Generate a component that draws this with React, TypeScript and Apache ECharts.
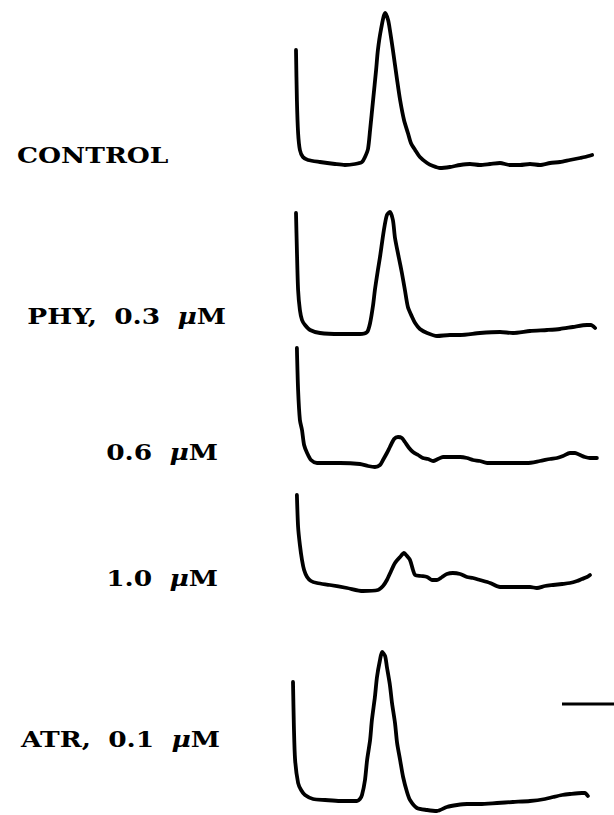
import React, { useEffect, useRef } from "react";
import * as echarts from "echarts";

// Trace labels (top to bottom)
const traceLabels: string[] = ["CONTROL", "PHY, 0.3 μM", "0.6 μM", "1.0 μM", "ATR, 0.1 μM"];

// Time (arbitrary units) / response (arbitrary units, baseline = 0)
const control: [number, number][] = [
  [1.0, 113], [1.3, 63], [1.7, 30], [2.3, 13], [3.3, 6], [5.0, 3], [9.0, 1], [14.0, -1], [17.3, -2],
  [20.7, -1], [23.0, 1], [24.0, 6], [25.0, 14], [25.7, 33], [26.7, 63], [27.7, 93], [28.3, 113],
  [29.3, 133], [30.7, 150], [31.7, 143], [32.3, 133], [33.3, 113], [34.7, 83], [35.7, 63], [37.0, 43],
  [38.3, 30], [39.3, 20], [40.7, 13], [42.3, 6], [44.7, 0], [46.7, -3], [49.0, -5], [52.3, -4],
  [55.7, -2], [59.0, -1], [62.3, -2], [65.7, -1], [69.0, 0], [72.3, -2], [75.7, -2], [79.0, -1],
  [82.3, -2], [85.7, 0], [89.0, 1], [92.3, 3], [95.7, 5], [97.3, 6], [99.7, 8],
];

const phy03: [number, number][] = [
  [1.0, 120], [1.3, 83], [1.7, 43], [2.3, 23], [3.0, 13], [4.0, 8], [5.7, 3], [9.0, 0], [15.7, -1],
  [22.3, -1], [24.7, 1], [25.7, 10], [26.7, 28], [27.3, 43], [28.3, 63], [29.0, 76], [30.3, 103],
  [31.3, 118], [32.3, 121], [33.3, 113], [34.0, 95], [35.3, 75], [36.3, 60], [37.3, 43], [38.3, 26],
  [39.7, 16], [40.7, 10], [42.3, 4], [44.7, 0], [48.0, -3], [52.3, -2], [55.7, -2], [62.3, 0],
  [69.0, 1], [73.3, 0], [79.0, 2], [84.7, 3], [89.0, 4], [93.3, 6], [98.0, 8], [99.3, 8], [100.7, 5],
];

const phy06: [number, number][] = [
  [1.3, 115], [1.7, 73], [2.3, 43], [3.0, 33], [3.7, 18], [4.7, 10], [6.0, 3], [8.0, 0], [15.7, 0],
  [22.3, -1], [25.0, -3], [27.3, -4], [29.0, -2], [30.0, 3], [31.3, 10], [32.3, 16], [33.7, 24],
  [35.0, 26], [36.3, 25], [37.3, 21], [38.7, 15], [40.0, 11], [41.7, 8], [43.3, 5], [45.0, 4],
  [46.7, 2], [48.3, 4], [50.0, 6], [52.3, 6], [55.7, 6], [58.0, 5], [60.0, 3], [62.3, 2], [64.7, 0],
  [69.0, 0], [73.3, 0], [78.0, 0], [82.3, 2], [85.7, 4], [88.0, 5], [90.0, 7], [92.3, 10], [94.0, 10],
  [95.7, 8], [97.3, 6], [99.0, 5], [101.3, 5],
];

const phy10: [number, number][] = [
  [1.3, 93], [1.7, 61], [2.3, 43], [3.0, 28], [3.7, 18], [4.7, 11], [6.0, 7], [8.0, 5], [12.3, 3],
  [18.0, 0], [23.3, -3], [28.3, -2], [30.0, 2], [31.3, 8], [32.7, 17], [34.0, 25], [35.7, 31],
  [37.0, 35], [38.0, 32], [39.0, 28], [40.0, 18], [40.7, 13], [42.7, 12], [44.7, 11], [46.3, 8],
  [48.0, 8], [49.7, 11], [51.3, 14], [53.3, 15], [55.7, 14], [58.0, 11], [60.0, 10], [62.3, 8],
  [65.7, 5], [69.0, 1], [72.3, 1], [75.7, 1], [79.0, 1], [81.3, 0], [84.0, 2], [86.7, 3], [89.7, 4],
  [92.3, 5], [94.7, 7], [96.3, 9], [98.0, 11], [99.0, 13],
];

const atr01: [number, number][] = [
  [0.0, 119], [0.3, 74], [0.7, 41], [1.7, 18], [2.7, 11], [4.0, 6], [6.7, 2], [10.7, 1], [15.7, 0],
  [21.3, 0], [22.3, 2], [23.0, 6], [24.0, 21], [24.7, 41], [25.7, 61], [26.3, 81], [27.3, 104],
  [28.0, 124], [29.0, 141], [29.7, 149], [30.7, 145], [31.3, 134], [32.3, 116], [33.0, 98], [34.0, 78],
  [34.7, 58], [35.7, 41], [36.7, 24], [38.0, 9], [39.0, 1], [41.3, -7], [44.7, -9], [48.0, -10],
  [51.3, -6], [54.7, -4], [58.0, -3], [62.3, -3], [68.0, -2], [73.3, -1], [79.0, 0], [84.0, 2],
  [86.7, 4], [89.7, 6], [92.3, 7], [96.3, 8], [97.3, 8], [98.3, 5],
];

const traces = [control, phy03, phy06, phy10, atr01];

export default function App() {
  const ref = useRef<HTMLDivElement>(null);
  useEffect(() => {
    if (!ref.current) return;
    const chart = echarts.init(ref.current, null, { renderer: "svg" });
    const baselines = [163, 333, 463, 588, 801];
    const labelY = [155, 316, 452, 578, 739];
    const labelX = [17, 226, 218, 218, 220];
    const yMin = -12;
    const yMax = 160;
    const grids = baselines.map((b) => ({
      left: 293,
      width: 306,
      top: b - yMax,
      height: yMax - yMin,
      containLabel: false,
    }));
    const xAxes = traces.map((_, i) => ({
      type: "value",
      gridIndex: i,
      min: 0,
      max: 102,
      show: false,
    }));
    const yAxes = traces.map((_, i) => ({
      type: "value",
      gridIndex: i,
      min: yMin,
      max: yMax,
      show: false,
    }));
    const series = traces.map((d, i) => ({
      type: "line",
      xAxisIndex: i,
      yAxisIndex: i,
      data: d,
      showSymbol: false,
      smooth: 0.25,
      lineStyle: { color: "#000", width: 3.8, cap: "round", join: "round" },
    }));
    const fs = 23;
    const base = { fontFamily: "DejaVu Serif", fontWeight: "bold", fontSize: fs, fill: "#000" };
    const makeRich = (t: string) =>
      t
        .split(/( )/)
        .filter((p) => p.length > 0)
        .map((p) => {
          if (p === " ") return "{s| }";
          const idx = p.indexOf("μ");
          if (idx < 0) return `{n|${p}}`;
          return `{n|${p.slice(0, idx)}}{m|μ}{n|${p.slice(idx + 1)}}`;
        })
        .join("");
    const textEls = traceLabels.map((t, i) => {
      const left = i === 0;
      return {
        type: "text",
        x: labelX[i],
        y: labelY[i],
        scaleX: 1.15,
        style: {
          text: makeRich(t),
          fill: "#000",
          font: `bold ${fs}px "DejaVu Serif", serif`,
          textAlign: left ? "left" : "right",
          textVerticalAlign: "middle",
          rich: {
            n: base,
            s: { ...base, width: 15 },
            m: { ...base, fontStyle: "italic" },
          },
        },
      };
    });
    chart.setOption({
      animation: false,
      backgroundColor: "#fff",
      grid: grids,
      xAxis: xAxes,
      yAxis: yAxes,
      series,
      graphic: [
        ...textEls,
        {
          type: "line",
          shape: { x1: 562, y1: 704, x2: 614, y2: 704 },
          style: { stroke: "#000", lineWidth: 3.2 },
        },
      ],
    });
    return () => chart.dispose();
  }, []);
  return (
    <div
      ref={ref}
      style={{ position: "absolute", left: 0, top: 0, width: 614, height: 815 }}
    />
  );
}
